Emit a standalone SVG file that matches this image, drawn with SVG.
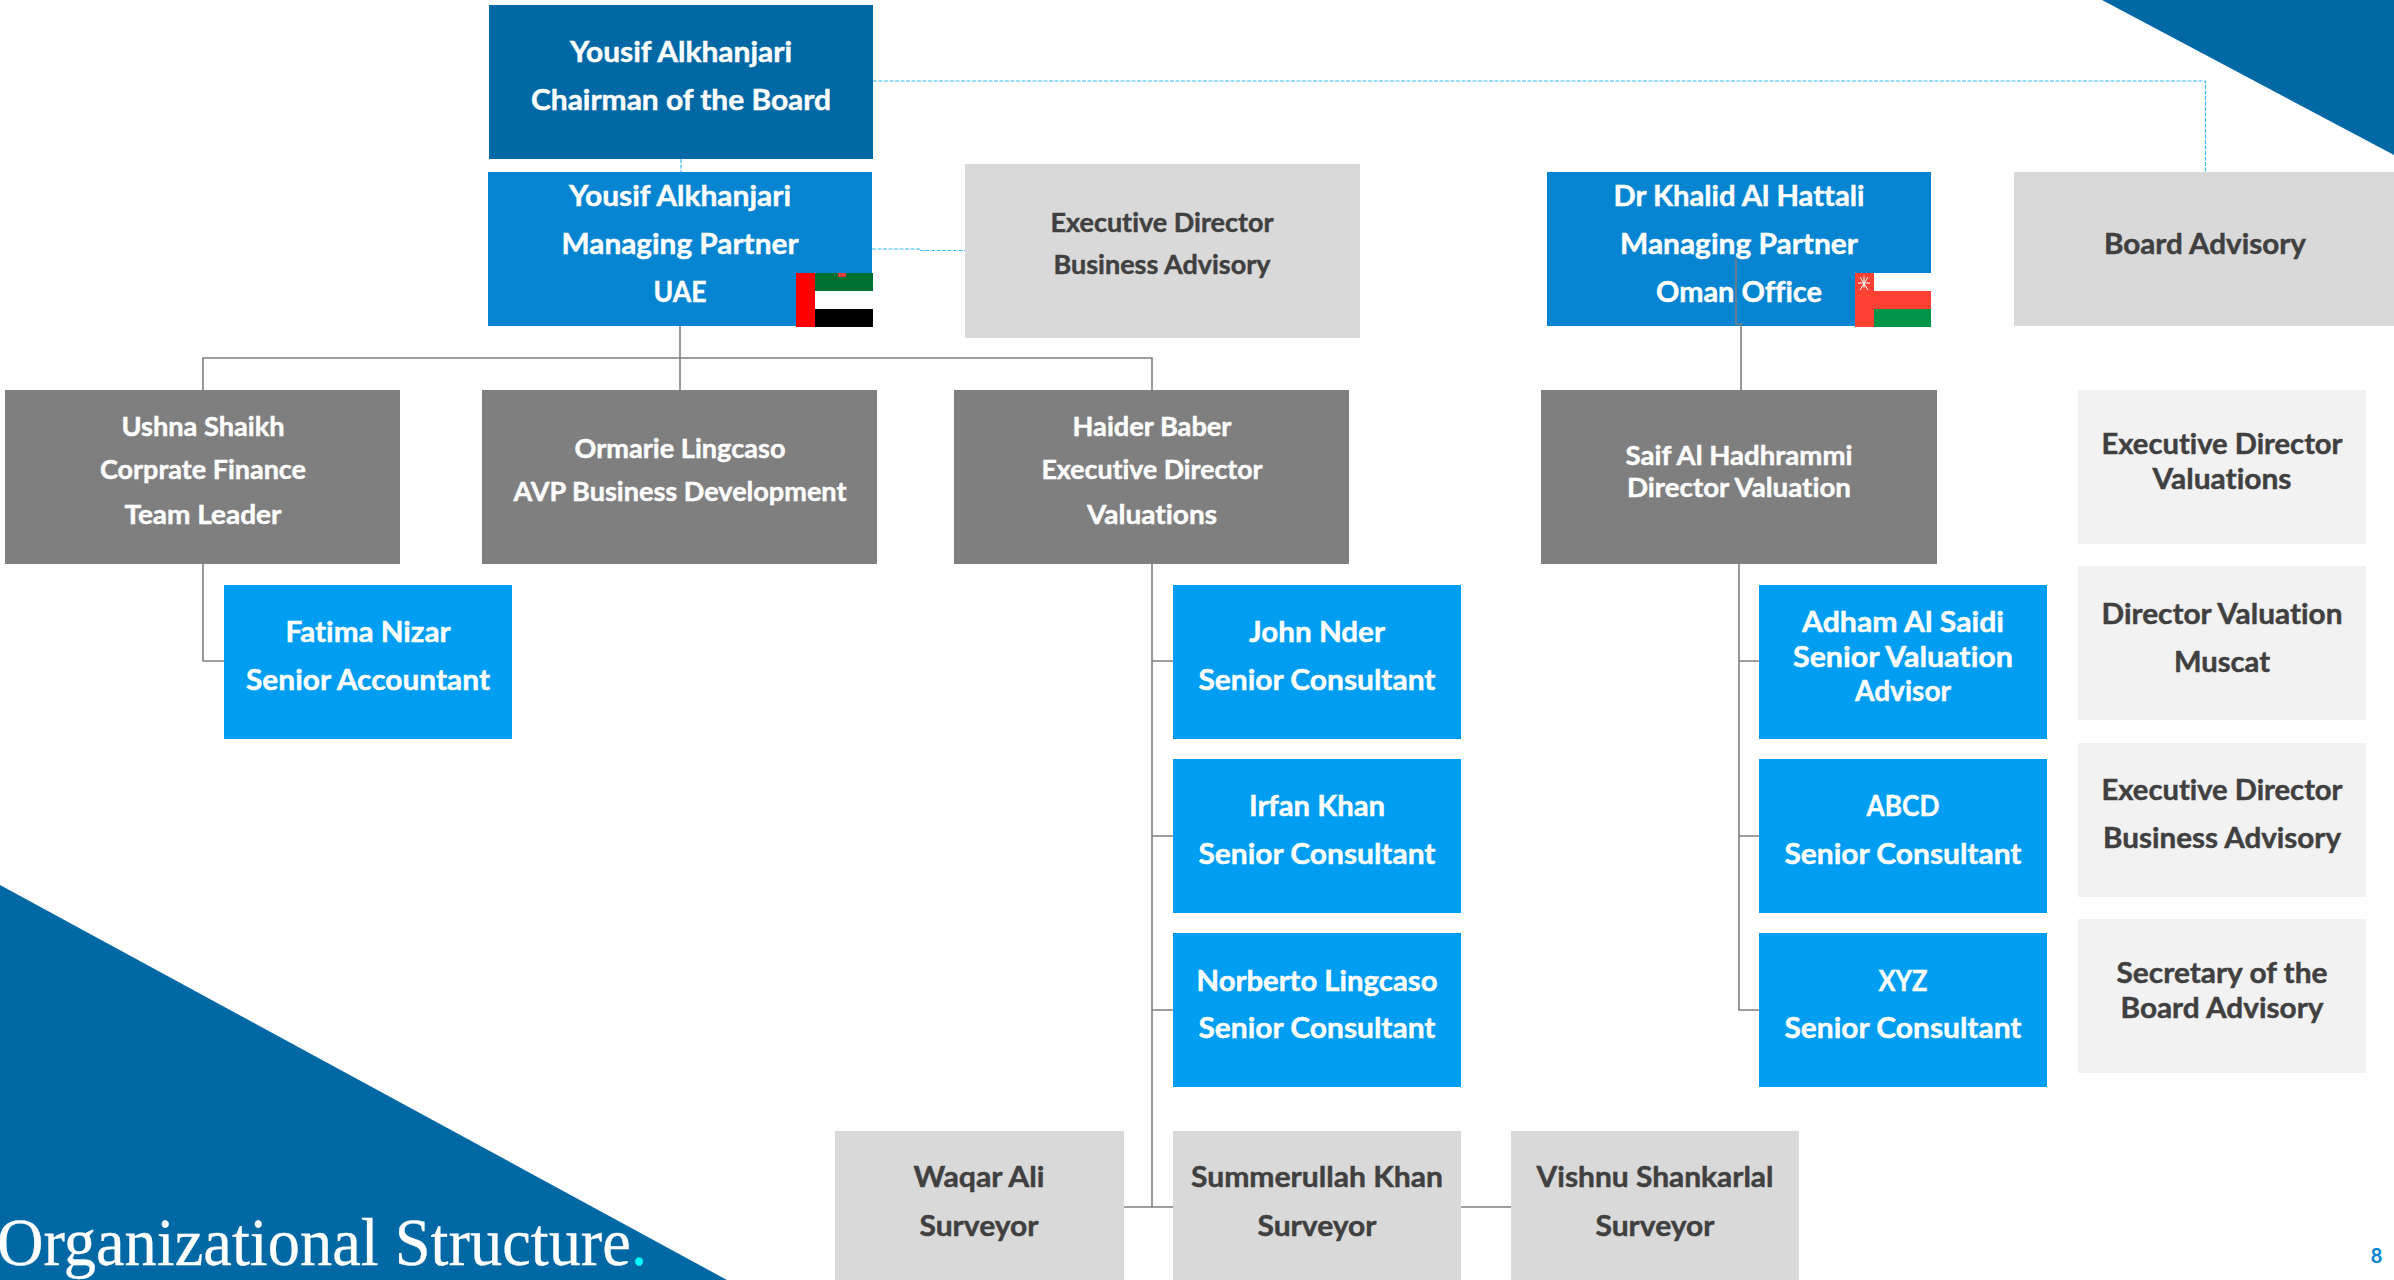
<svg xmlns="http://www.w3.org/2000/svg" width="2394" height="1280" viewBox="0 0 2394 1280">
<style>
text{font-family:"Lato","Carlito","Open Sans",sans-serif;font-weight:700;text-anchor:middle;fill:#fff;stroke:#fff;stroke-width:.45px;font-variant-ligatures:none}
.w{font-size:29px}.g{font-size:27px}
text.d{fill:#404040;stroke:#404040}
text.title{font-family:"Liberation Serif","Times New Roman",serif;font-weight:400;font-size:68px;text-anchor:start;stroke-width:.3px}
text.pg{font-size:20px;fill:#0484d1;stroke:none}
.c{fill:none;stroke:#7f7f7f;stroke-width:1.6}
.dash{fill:none;stroke:#3db8f5;stroke-width:1.2;stroke-dasharray:4 1.5}
.navy{fill:#0069a5}.mid{fill:#0484d1}.sky{fill:#009ef3}.grey{fill:#7f7f7f}.lg{fill:#d9d9d9}.vl{fill:#f2f2f2}
</style>
<rect width="2394" height="1280" fill="#fff"/>
<polygon class="navy" points="2102,0 2394,0 2394,155"/>
<polygon class="navy" points="0,885 727,1280 0,1280"/>
<text class="title" x="-3" y="1265" textLength="650" lengthAdjust="spacingAndGlyphs">Organizational Structure<tspan fill="#00ffff" stroke="#00ffff">.</tspan></text>

<g id="node-chairman"><rect class="navy" x="489" y="5" width="384" height="154"/>
<text class="w" x="681" y="62" textLength="222" lengthAdjust="spacingAndGlyphs">Yousif Alkhanjari</text>
<text class="w" x="681" y="110" textLength="300" lengthAdjust="spacingAndGlyphs">Chairman of the Board</text></g>

<g id="node-mp-uae"><rect class="mid" x="488" y="172" width="384" height="154"/>
<text class="w" x="680" y="206" textLength="222" lengthAdjust="spacingAndGlyphs">Yousif Alkhanjari</text>
<text class="w" x="680" y="254" textLength="237" lengthAdjust="spacingAndGlyphs">Managing Partner</text>
<text class="w" x="680" y="302" textLength="53" lengthAdjust="spacingAndGlyphs">UAE</text>
<rect x="815" y="273" width="58" height="18" fill="#006f32"/><rect x="815" y="291" width="58" height="18" fill="#fff"/><rect x="815" y="309" width="58" height="18" fill="#000"/><rect x="796" y="273" width="19" height="54" fill="#f00"/><rect x="838" y="273" width="8" height="4" fill="#d9413a"/></g>

<g id="node-ed-ba-top"><rect class="lg" x="965" y="164" width="395" height="174"/>
<text class="g d" x="1162" y="232" textLength="223" lengthAdjust="spacingAndGlyphs">Executive Director</text>
<text class="g d" x="1162" y="274" textLength="217" lengthAdjust="spacingAndGlyphs">Business Advisory</text></g>

<g id="node-mp-oman"><rect class="mid" x="1547" y="172" width="384" height="154"/>
<text class="w" x="1739" y="206" textLength="251" lengthAdjust="spacingAndGlyphs">Dr Khalid Al Hattali</text>
<text class="w" x="1739" y="254" textLength="238" lengthAdjust="spacingAndGlyphs">Managing Partner</text>
<text class="w" x="1739" y="302" textLength="166" lengthAdjust="spacingAndGlyphs">Oman Office</text>
<rect x="1874" y="273" width="57" height="18" fill="#fff"/><rect x="1874" y="291" width="57" height="18" fill="#ff4133"/><rect x="1874" y="309" width="57" height="18" fill="#009448"/><rect x="1855" y="273" width="19" height="54" fill="#ff4133"/>
<path d="M1860 277l8 13M1868 277l-8 13M1858 283h12M1864 276v12" stroke="#fff" stroke-width="1" fill="none"/></g>

<g id="node-board-advisory"><rect class="lg" x="2014" y="172" width="380" height="154"/>
<text class="w d" x="2205" y="254" textLength="202" lengthAdjust="spacingAndGlyphs">Board Advisory</text></g>

<g id="node-ushna"><rect class="grey" x="5" y="390" width="395" height="174"/>
<text class="g" x="203" y="436" textLength="163" lengthAdjust="spacingAndGlyphs">Ushna Shaikh</text>
<text class="g" x="203" y="479" textLength="206" lengthAdjust="spacingAndGlyphs">Corprate Finance</text>
<text class="g" x="203" y="524" textLength="157" lengthAdjust="spacingAndGlyphs">Team Leader</text></g>

<g id="node-ormarie"><rect class="grey" x="482" y="390" width="395" height="174"/>
<text class="g" x="680" y="458" textLength="211" lengthAdjust="spacingAndGlyphs">Ormarie Lingcaso</text>
<text class="g" x="680" y="501" textLength="333" lengthAdjust="spacingAndGlyphs">AVP Business Development</text></g>

<g id="node-haider"><rect class="grey" x="954" y="390" width="395" height="174"/>
<text class="g" x="1152" y="436" textLength="159" lengthAdjust="spacingAndGlyphs">Haider Baber</text>
<text class="g" x="1152" y="479" textLength="221" lengthAdjust="spacingAndGlyphs">Executive Director</text>
<text class="g" x="1152" y="524" textLength="130" lengthAdjust="spacingAndGlyphs">Valuations</text></g>

<g id="node-saif"><rect class="grey" x="1541" y="390" width="396" height="174"/>
<text class="g" x="1739" y="465" textLength="227" lengthAdjust="spacingAndGlyphs">Saif Al Hadhrammi</text>
<text class="g" x="1739" y="497" textLength="224" lengthAdjust="spacingAndGlyphs">Director Valuation</text></g>

<g id="node-fatima"><rect class="sky" x="224" y="585" width="288" height="154"/>
<text class="w" x="368" y="642" textLength="165" lengthAdjust="spacingAndGlyphs">Fatima Nizar</text>
<text class="w" x="368" y="690" textLength="244" lengthAdjust="spacingAndGlyphs">Senior Accountant</text></g>

<g id="node-john"><rect class="sky" x="1173" y="585" width="288" height="154"/>
<text class="w" x="1317" y="642" textLength="136" lengthAdjust="spacingAndGlyphs">John Nder</text>
<text class="w" x="1317" y="690" textLength="237" lengthAdjust="spacingAndGlyphs">Senior Consultant</text></g>

<g id="node-irfan"><rect class="sky" x="1173" y="759" width="288" height="154"/>
<text class="w" x="1317" y="816" textLength="136" lengthAdjust="spacingAndGlyphs">Irfan Khan</text>
<text class="w" x="1317" y="864" textLength="237" lengthAdjust="spacingAndGlyphs">Senior Consultant</text></g>

<g id="node-norberto"><rect class="sky" x="1173" y="933" width="288" height="154"/>
<text class="w" x="1317" y="991" textLength="241" lengthAdjust="spacingAndGlyphs">Norberto Lingcaso</text>
<text class="w" x="1317" y="1038" textLength="237" lengthAdjust="spacingAndGlyphs">Senior Consultant</text></g>

<g id="node-adham"><rect class="sky" x="1759" y="585" width="288" height="154"/>
<text class="w" x="1903" y="632" textLength="202" lengthAdjust="spacingAndGlyphs">Adham Al Saidi</text>
<text class="w" x="1903" y="667" textLength="220" lengthAdjust="spacingAndGlyphs">Senior Valuation</text>
<text class="w" x="1903" y="701" textLength="96" lengthAdjust="spacingAndGlyphs">Advisor</text></g>

<g id="node-abcd"><rect class="sky" x="1759" y="759" width="288" height="154"/>
<text class="w" x="1903" y="816" textLength="73" lengthAdjust="spacingAndGlyphs">ABCD</text>
<text class="w" x="1903" y="864" textLength="237" lengthAdjust="spacingAndGlyphs">Senior Consultant</text></g>

<g id="node-xyz"><rect class="sky" x="1759" y="933" width="288" height="154"/>
<text class="w" x="1903" y="991" textLength="49" lengthAdjust="spacingAndGlyphs">XYZ</text>
<text class="w" x="1903" y="1038" textLength="237" lengthAdjust="spacingAndGlyphs">Senior Consultant</text></g>

<g id="node-waqar"><rect class="lg" x="835" y="1131" width="289" height="149"/>
<text class="w d" x="979" y="1187" textLength="131" lengthAdjust="spacingAndGlyphs">Waqar Ali</text>
<text class="w d" x="979" y="1236" textLength="119" lengthAdjust="spacingAndGlyphs">Surveyor</text></g>

<g id="node-summerullah"><rect class="lg" x="1173" y="1131" width="288" height="149"/>
<text class="w d" x="1317" y="1187" textLength="252" lengthAdjust="spacingAndGlyphs">Summerullah Khan</text>
<text class="w d" x="1317" y="1236" textLength="119" lengthAdjust="spacingAndGlyphs">Surveyor</text></g>

<g id="node-vishnu"><rect class="lg" x="1511" y="1131" width="288" height="149"/>
<text class="w d" x="1655" y="1187" textLength="237" lengthAdjust="spacingAndGlyphs">Vishnu Shankarlal</text>
<text class="w d" x="1655" y="1236" textLength="119" lengthAdjust="spacingAndGlyphs">Surveyor</text></g>

<g id="node-r1"><rect class="vl" x="2078" y="390" width="288" height="154"/>
<text class="w d" x="2222" y="454" textLength="241" lengthAdjust="spacingAndGlyphs">Executive Director</text>
<text class="w d" x="2222" y="489" textLength="139" lengthAdjust="spacingAndGlyphs">Valuations</text></g>

<g id="node-r2"><rect class="vl" x="2078" y="566" width="288" height="154"/>
<text class="w d" x="2222" y="624" textLength="241" lengthAdjust="spacingAndGlyphs">Director Valuation</text>
<text class="w d" x="2222" y="672" textLength="96" lengthAdjust="spacingAndGlyphs">Muscat</text></g>

<g id="node-r3"><rect class="vl" x="2078" y="743" width="288" height="154"/>
<text class="w d" x="2222" y="800" textLength="241" lengthAdjust="spacingAndGlyphs">Executive Director</text>
<text class="w d" x="2222" y="848" textLength="238" lengthAdjust="spacingAndGlyphs">Business Advisory</text></g>

<g id="node-r4"><rect class="vl" x="2078" y="919" width="288" height="154"/>
<text class="w d" x="2222" y="983" textLength="211" lengthAdjust="spacingAndGlyphs">Secretary of the</text>
<text class="w d" x="2222" y="1018" textLength="203" lengthAdjust="spacingAndGlyphs">Board Advisory</text></g>

<text class="pg" x="2376.500" y="1263">8</text>

<g id="connectors">
<path class="c" d="M680 326V390"/>
<path class="c" d="M203 390V358H1152V390"/>
<path class="c" d="M203 564V661H224"/>
<path class="c" d="M1152 564V1207M1152 661H1173M1152 836H1173M1152 1010H1173M1124 1207H1173M1461 1207H1511"/>
<path class="c" d="M1736 258V324H1741V390"/>
<path class="c" d="M1739 564V1010H1759M1739 661H1759M1739 836H1759"/>
<path class="dash" d="M873 81H2205.500V172"/>
<path class="dash" d="M872 249H919V250.500H965"/>
<path class="dash" d="M681 159V172"/>
</g>
</svg>
